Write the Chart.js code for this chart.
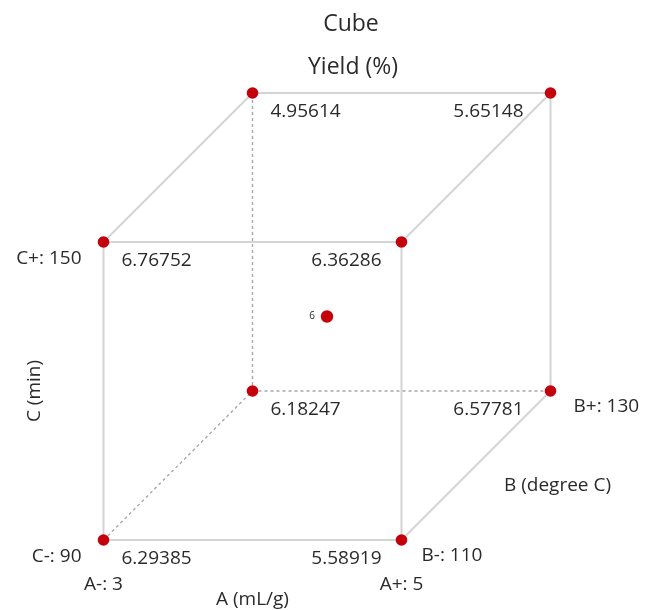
<!DOCTYPE html>
<html>
<head>
<meta charset="utf-8">
<title>Cube plot – Yield (%)</title>
<script src="https://cdn.jsdelivr.net/npm/chart.js@4/dist/chart.umd.min.js"></script>
<style>
  html, body { margin: 0; padding: 0; background: #ffffff; }
  #wrap { width: 646px; height: 610px; position: relative; }
</style>
</head>
<body>
<div id="wrap"><canvas id="cube" width="646" height="610"></canvas></div>
<script>
// Coded factor levels of the 2^3 design, one entry per cube corner
const aLevels = [-1,  1, -1,  1, -1,  1, -1,  1];
const bLevels = [-1, -1,  1,  1, -1, -1,  1,  1];
const cLevels = [-1, -1, -1, -1,  1,  1,  1,  1];
// Mean yield (%) at each corner
const yieldValues = [6.29385, 5.58919, 6.18247, 6.57781, 6.76752, 6.36286, 4.95614, 5.65148];
// Center point
const centerLevel = [0, 0, 0];
const centerValue = 6;

// Factor names and their low / high settings
const factorNames = ['A (mL/g)', 'B (degree C)', 'C (min)'];
const aTicks = ['A-: 3', 'A+: 5'];
const bTicks = ['B-: 110', 'B+: 130'];
const cTicks = ['C-: 90', 'C+: 150'];

const titleLines = ['Cube', 'Yield (%)'];

// Cube edges (corner index pairs); edges meeting the hidden back corner are dashed
const edges = [[0,1],[2,3],[4,5],[6,7],[0,2],[1,3],[4,6],[5,7],[0,4],[1,5],[2,6],[3,7]];
const hiddenCorner = 2;

// Oblique projection: B recedes up and to the right
const depth = 0.5;
const project = (a, b, c) => ({ x: a + depth * b, y: c + depth * b });

const corners = aLevels.map((a, i) => project(a, bLevels[i], cLevels[i]));
const centerPt = project(...centerLevel);

const EDGE_SOLID = '#d4d4d4';
const EDGE_DASH = '#a8a8a8';
const MARK = '#c4000b';
const TEXT = '#2a2a2a';
const FONT = '"Open Sans", "Noto Sans", sans-serif';

const edgeSets = edges.map(([i, j]) => {
  const hidden = i === hiddenCorner || j === hiddenCorner;
  return {
    type: 'line',
    data: [corners[i], corners[j]],
    borderColor: hidden ? EDGE_DASH : EDGE_SOLID,
    borderWidth: hidden ? 1.4 : 2,
    borderDash: hidden ? [3, 3] : [],
    pointRadius: 0,
    fill: false,
    tension: 0,
    order: 2
  };
});

const pointSet = {
  type: 'scatter',
  data: corners.concat([centerPt]),
  backgroundColor: MARK,
  borderColor: MARK,
  borderWidth: 0,
  pointRadius: [5.8, 5.8, 5.8, 5.8, 5.8, 5.8, 5.8, 5.8, 6.2],
  order: 0
};

// Text annotations placed at projected cube positions
const cubeText = {
  id: 'cubeText',
  afterDatasetsDraw(chart) {
    const { ctx, scales: { x, y } } = chart;
    const px = p => ({ x: x.getPixelForValue(p.x), y: y.getPixelForValue(p.y) });
    const txt = (s, X, Y, align, size) => {
      ctx.font = (size || 19) + 'px ' + FONT;
      ctx.textAlign = align;
      ctx.textBaseline = 'middle';
      ctx.fillText(s, X, Y);
    };
    ctx.save();
    ctx.fillStyle = TEXT;

    // Title
    txt(titleLines[0], 351, 24, 'center', 23);
    txt(titleLines[1], 353, 67, 'center', 23);

    // Corner values
    corners.forEach((p, i) => {
      const q = px(p);
      if (aLevels[i] < 0) {
        txt(String(yieldValues[i]), q.x + 18, q.y + 19, 'left');
      } else {
        const off = bLevels[i] < 0 ? 20 : 27;
        txt(String(yieldValues[i]), q.x - off, q.y + 19, 'right');
      }
    });

    // Center value
    const cq = px(centerPt);
    txt(String(centerValue), cq.x - 12, cq.y, 'right', 10);

    // Factor level labels
    const fbl = px(corners[0]);
    const fbr = px(corners[1]);
    const bbr = px(corners[3]);
    const ftl = px(corners[4]);
    txt(cTicks[0], fbl.x - 22, fbl.y + 17, 'right');
    txt(cTicks[1], ftl.x - 22, ftl.y + 17, 'right');
    txt(aTicks[0], fbl.x, fbl.y + 45, 'center');
    txt(aTicks[1], fbr.x, fbr.y + 45, 'center');
    txt(bTicks[0], fbr.x + 20, fbr.y + 16, 'left');
    txt(bTicks[1], bbr.x + 23, bbr.y + 16, 'left');

    // Factor names
    txt(factorNames[0], (fbl.x + fbr.x) / 2, fbl.y + 60, 'center');
    txt(factorNames[1], (fbr.x + bbr.x) / 2 + 28, (fbr.y + bbr.y) / 2 + 20, 'left');
    ctx.save();
    ctx.translate(fbl.x - 69, (fbl.y + ftl.y) / 2);
    ctx.rotate(-Math.PI / 2);
    txt(factorNames[2], 0, 0, 'center');
    ctx.restore();

    ctx.restore();
  }
};

new Chart(document.getElementById('cube'), {
  type: 'scatter',
  data: { datasets: [pointSet].concat(edgeSets) },
  options: {
    responsive: false,
    devicePixelRatio: 1,
    animation: false,
    events: [],
    layout: { padding: { left: 29, right: 21, top: 18.5, bottom: 10.4 } },
    scales: {
      x: { type: 'linear', min: -2, max: 2, display: false },
      y: { type: 'linear', min: -1.9, max: 2, display: false }
    },
    plugins: {
      legend: { display: false },
      title: { display: false },
      tooltip: { enabled: false }
    }
  },
  plugins: [cubeText]
});
</script>
</body>
</html>
